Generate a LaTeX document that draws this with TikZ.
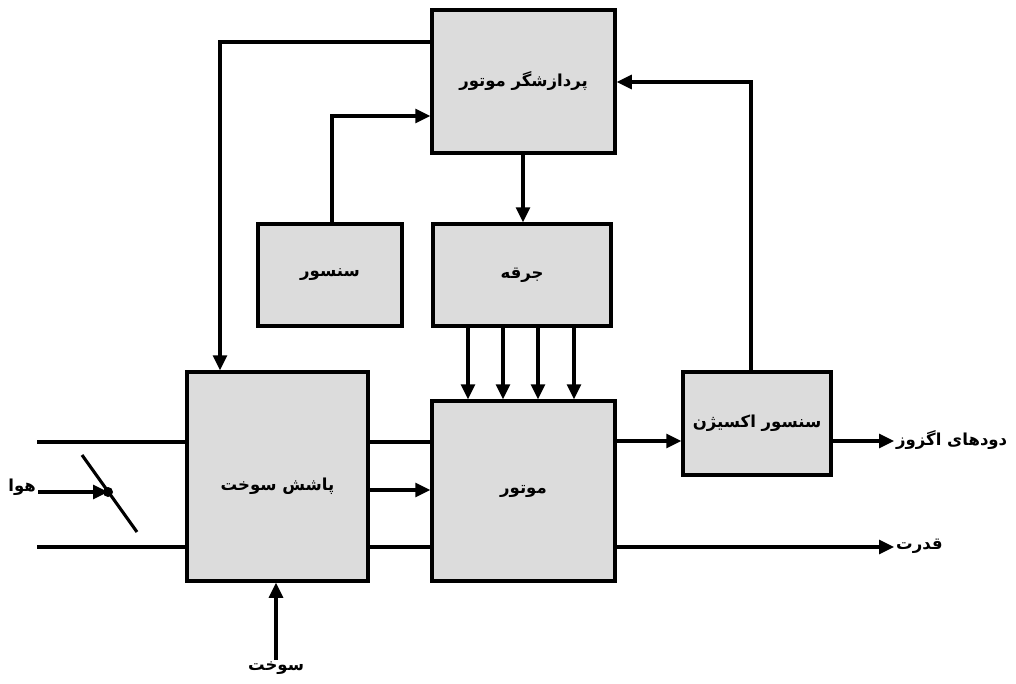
\documentclass[tikz,border=0pt]{standalone}
\usepackage{fontspec}
\usetikzlibrary{arrows.meta}
\TeXXeTstate=1
\newfontfamily\fa[Script=Arabic]{DejaVu Sans}
\definecolor{boxgray}{RGB}{220,220,220}
\tikzset{
  txt/.style={font=\fa\bfseries\fontsize{16.5}{20}\selectfont},
  block/.style={draw, line width=3.5pt, fill=boxgray, inner sep=0pt, txt},
  tag/.style={inner sep=2pt, txt},
  wire/.style={line width=3.1pt},
  arr/.style={wire, -{Triangle[length=15pt,width=14pt]}},
}
\begin{document}
\begin{tikzpicture}[x=1pt,y=-1pt]
\useasboundingbox (0,0) rectangle (1016,683);

% blocks
\node[block, minimum width=183pt, minimum height=143pt] (ecu) at (523.5,81.5) {\beginR پردازشگر موتور\endR};
\node[block, minimum width=144pt, minimum height=102pt] (sen) at (330,275) {\beginR سنسور\endR};
\node[block, minimum width=178pt, minimum height=102pt] (spk) at (522,275) {\beginR جرقه\endR};
\node[block, minimum width=181pt, minimum height=209pt,
  label={[txt, yshift=-10pt]center:\beginR پاشش سوخت\endR}] (inj) at (277.5,476.5) {};
\node[block, minimum width=183pt, minimum height=180pt] (eng) at (523.5,491) {\beginR موتور\endR};
\node[block, minimum width=148pt, minimum height=103pt] (o2) at (757,423.5) {\beginR سنسور اکسیژن\endR};

% outer labels
\node[tag, anchor=west] (exh) at (894,440) {\beginR دودهای اگزوز\endR};
\node[tag, anchor=west] (pow) at (894,546) {\beginR قدرت\endR};
\node[tag, anchor=east] (air) at (38,487) {\beginR هوا\endR};
\node[tag, anchor=north] (fuel) at (276,660) {\beginR سوخت\endR};

% routing points
\coordinate (fb) at (220,42);
\coordinate (sb) at (332,116);
\coordinate (ob) at (751,82);
\coordinate (pipeT) at (37,442);
\coordinate (pipeB) at (37,547);
\coordinate (thA) at (82,455);
\coordinate (thB) at (137,532);
\coordinate (thM) at (108,492);

% control lines
\draw[arr] (ecu.west |- fb) -| (inj.north -| fb);
\draw[arr] (sen.north -| sb) |- (ecu.west |- sb);
\draw[arr] (ecu.south -| 523,0) -- (spk.north -| 523,0);
\foreach \x in {468,503,538,574}
  \draw[arr] (spk.south -| \x,0) -- (eng.north -| \x,0);
\draw[arr] (o2.north -| ob) |- (ecu.east |- ob);

% air intake with throttle
\draw[wire] (pipeT) -- (inj.west |- pipeT);
\draw[wire] (pipeB) -- (inj.west |- pipeB);
\draw[wire] (thA) -- (thB);
\fill (thM) circle (5pt);
\draw[arr] (air.east |- thM) -- (thM);

% injection to engine
\draw[wire] (inj.east |- pipeT) -- (eng.west |- pipeT);
\draw[wire] (inj.east |- pipeB) -- (eng.west |- pipeB);
\draw[arr] (inj.east |- 0,490) -- (eng.west |- 0,490);

% fuel
\draw[arr] (fuel.north) -- (inj.south -| fuel.north);

% outputs
\draw[arr] (eng.east |- 0,441) -- (o2.west |- 0,441);
\draw[arr] (o2.east |- 0,441) -- (exh.west |- 0,441);
\draw[arr] (eng.east |- 0,547) -- (pow.west |- 0,547);
\end{tikzpicture}
\end{document}
